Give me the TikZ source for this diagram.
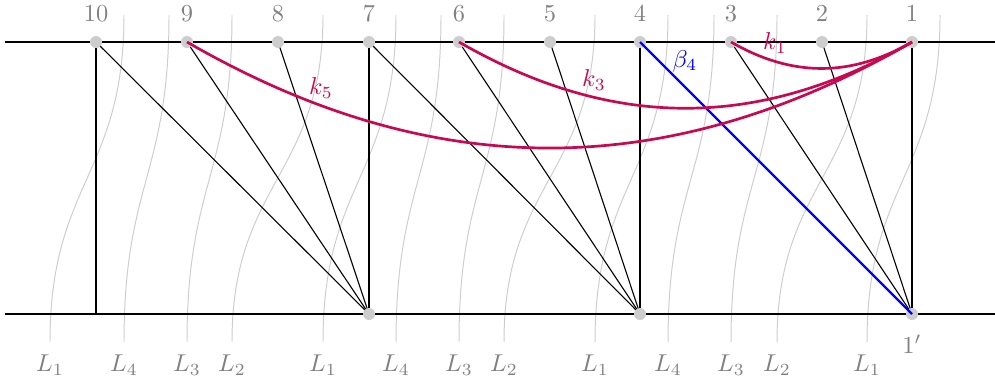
\documentclass[tikz,border=0pt]{standalone}
\usepackage{xcolor}
\definecolor{kred}{RGB}{200,8,80}
\definecolor{lgray}{RGB}{205,205,205}
\definecolor{tgray}{RGB}{128,128,128}
\begin{document}
\begin{tikzpicture}[x=0.0144cm, y=-0.0144cm,
  dotstyle/.style={circle, fill=lgray, inner sep=0pt, minimum size=12*0.0144cm},
  numlabel/.style={text=tgray, inner sep=0pt},
  llabel/.style={text=tgray, inner sep=0pt},
  strand/.style={lgray, line width=0.4pt},
  axisline/.style={black, line width=0.5pt},
  thin line/.style={black, line width=0.45pt},
  kcurve/.style={kred, line width=1.1pt},
  betaline/.style={blue, line width=0.9pt}]
\useasboundingbox (0,0) rectangle (995,384);
% points
\foreach \n/\x in {10/96,9/187,8/278,7/369,6/459,5/550,4/640,3/731,2/822,1/912}
  \coordinate (t\n) at (\x,42);
\coordinate (b10) at (96,314);
\coordinate (b7) at (369,314);
\coordinate (b4) at (640,314);
\coordinate (b1) at (912,314);
\coordinate (lt) at (5,42); \coordinate (rt) at (995,42);
\coordinate (lb) at (5,314); \coordinate (rb) at (995,314);
% gray strands
\foreach \xb/\xt in {50/124,124/169,187/232,232/323,323/396,396/441,459/504,504/595,595/668,668/714,731/777,777/867,867/940}
  \draw[strand] (\xb,342) .. controls (\xb,182) and (\xt,175) .. (\xt,15);
% axes
\draw[axisline] (lt) -- (rt);
\draw[axisline] (lb) -- (rb);
\draw[axisline] (t10) -- (b10);
\draw[axisline] (t7) -- (b7);
\draw[axisline] (t4) -- (b4);
\draw[axisline] (t1) -- (b1);
% diagonals
\foreach \a in {10,9,8} \draw[thin line] (t\a) -- (b7);
\foreach \a in {7,6,5} \draw[thin line] (t\a) -- (b4);
\foreach \a in {3,2} \draw[thin line] (t\a) -- (b1);
% dots
\foreach \n in {10,9,8,7,6,5,4,3,2,1} \node[dotstyle] (dt\n) at (t\n) {};
\foreach \n in {7,4,1} \node[dotstyle] (db\n) at (b\n) {};
% colored
\draw[betaline] (t4) -- (b1);
\draw[kcurve] (t3) to[bend right=30] (t1);
\draw[kcurve] (t6) to[bend right=30] (t1);
\draw[kcurve] (t9) to[bend right=30] (t1);
\node[text=kred, inner sep=0pt] (k5) at (321,88) {$k_5$};
\node[text=kred, inner sep=0pt] (k3) at (594,80) {$k_3$};
\node[text=kred, inner sep=0pt] (k1) at (775,43) {$k_1$};
\node[text=blue, inner sep=0pt] (b4lab) at (685,61) {$\beta_4$};
% numbers
\foreach \n/\x in {10/96,9/187,8/278,7/369,6/459,5/550,4/640,3/731,2/822,1/912}
  \node[numlabel] (n\n) at (\x,14) {$\n$};
\node[numlabel] (n1p) at (912,344) {$1'$};
% L labels
\foreach \x/\i [count=\c] in {50/1,124/4,187/3,232/2,323/1,396/4,459/3,504/2,595/1,668/4,731/3,777/2,867/1}
  \node[llabel] (L\c) at (\x,365) {$L_{\i}$};
\end{tikzpicture}
\end{document}
